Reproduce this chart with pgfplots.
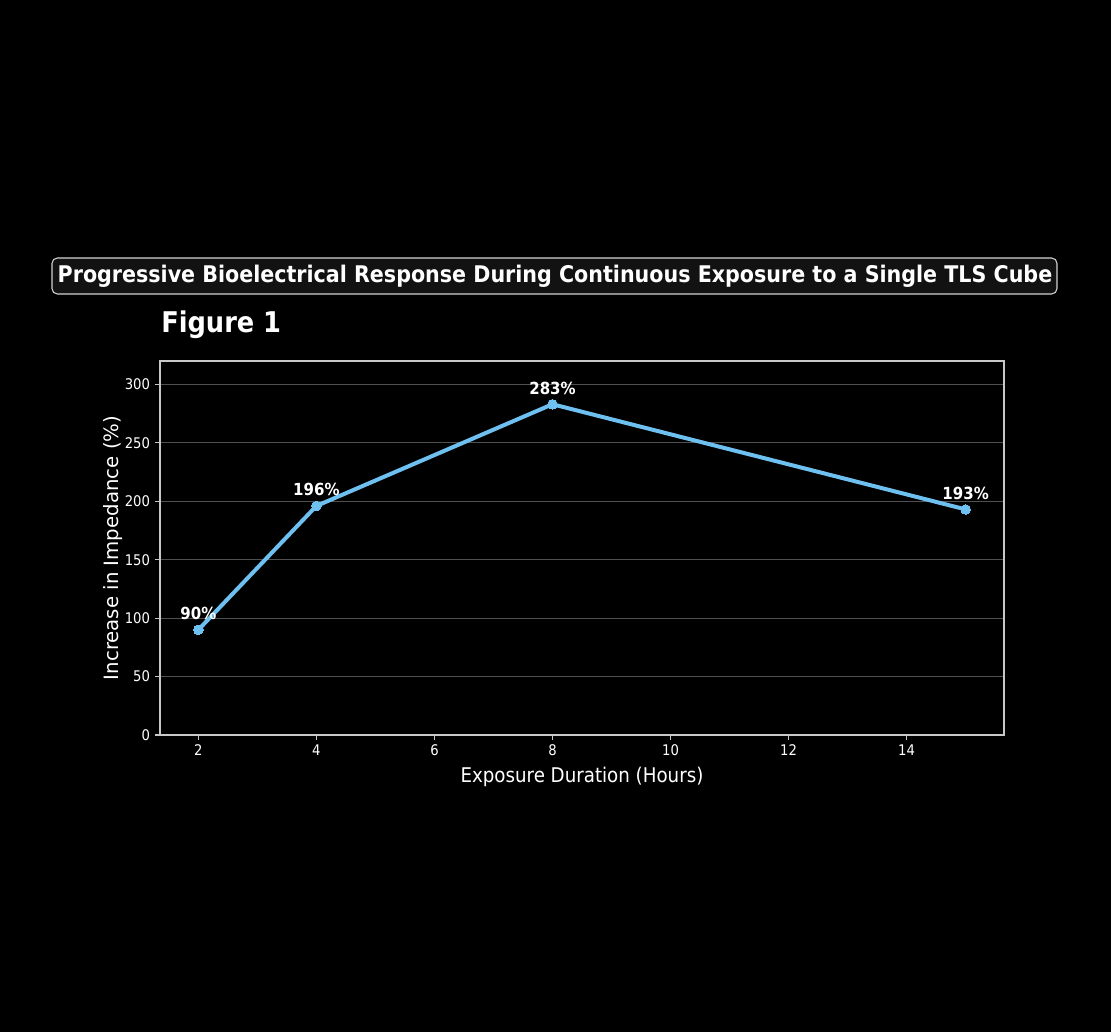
\documentclass[border=0pt]{standalone}
\usepackage{pgfplots}
\pgfplotsset{compat=1.18}
\usepackage{fontspec}
\setmainfont{DejaVu Sans Condensed}
\newfontfamily\regfont{DejaVu Sans}
\definecolor{linec}{RGB}{110,192,240}
\definecolor{gridc}{RGB}{80,80,80}
\definecolor{framec}{RGB}{200,200,200}
\definecolor{boxc}{RGB}{18,18,18}
\begin{document}
\begin{tikzpicture}
\begin{scope}[x=0.75pt,y=0.75pt]
\fill[black] (0,0) rectangle (1111,1032);
\draw[rounded corners=4pt, fill=boxc, draw=framec!80, line width=0.8pt] (52,738) rectangle (1057,774);
\node[text=white, font=\fontsize{17.2}{20}\selectfont\bfseries] at (555,756) {Progressive Bioelectrical Response During Continuous Exposure to a Single TLS Cube};
\node[text=white, font=\fontsize{21.4}{24}\selectfont\bfseries, anchor=base west, inner sep=0pt] at (161,699) {Figure 1};
\end{scope}
\begin{axis}[
  at={(120pt,222.75pt)}, anchor=south west,
  scale only axis, width=633pt, height=280.5pt,
  xmin=1.35, xmax=15.65, ymin=0, ymax=320,
  xtick={2,4,...,14}, ytick={0,50,...,300},
  axis line style={framec, line width=0.8pt},
  tick style={framec, line width=0.8pt},
  major tick length=4pt,
  tick align=outside,
  xtick pos=bottom, ytick pos=left,
  ymajorgrids, grid style={gridc, line width=0.6pt},
  ticklabel style={text=white, font=\fontsize{11}{13}\selectfont},
  /pgf/number format/assume math mode=true,
  xlabel={Exposure Duration (Hours)}, ylabel={Increase in Impedance (\%)},
  xlabel style={text=white, font=\fontsize{15.2}{17}\selectfont, yshift=-1pt},
  ylabel style={text=white, font=\regfont\fontsize{14.8}{17}\selectfont, yshift=-5pt},
  clip=false,
]
\addplot[linec, line width=3pt, mark=*, mark size=3.6pt, mark options={fill=linec, draw=linec, line width=0pt},
  nodes near coords={\pgfmathprintnumber[fixed,precision=0]{\pgfplotspointmeta}\%},
  point meta=y,
  every node near coord/.append style={text=white, font=\fontsize{12.5}{14}\selectfont\bfseries, yshift=4pt, /pgf/number format/assume math mode=true}]
coordinates {(2,90) (4,196) (8,283) (15,193)};
\end{axis}
\end{tikzpicture}
\end{document}
